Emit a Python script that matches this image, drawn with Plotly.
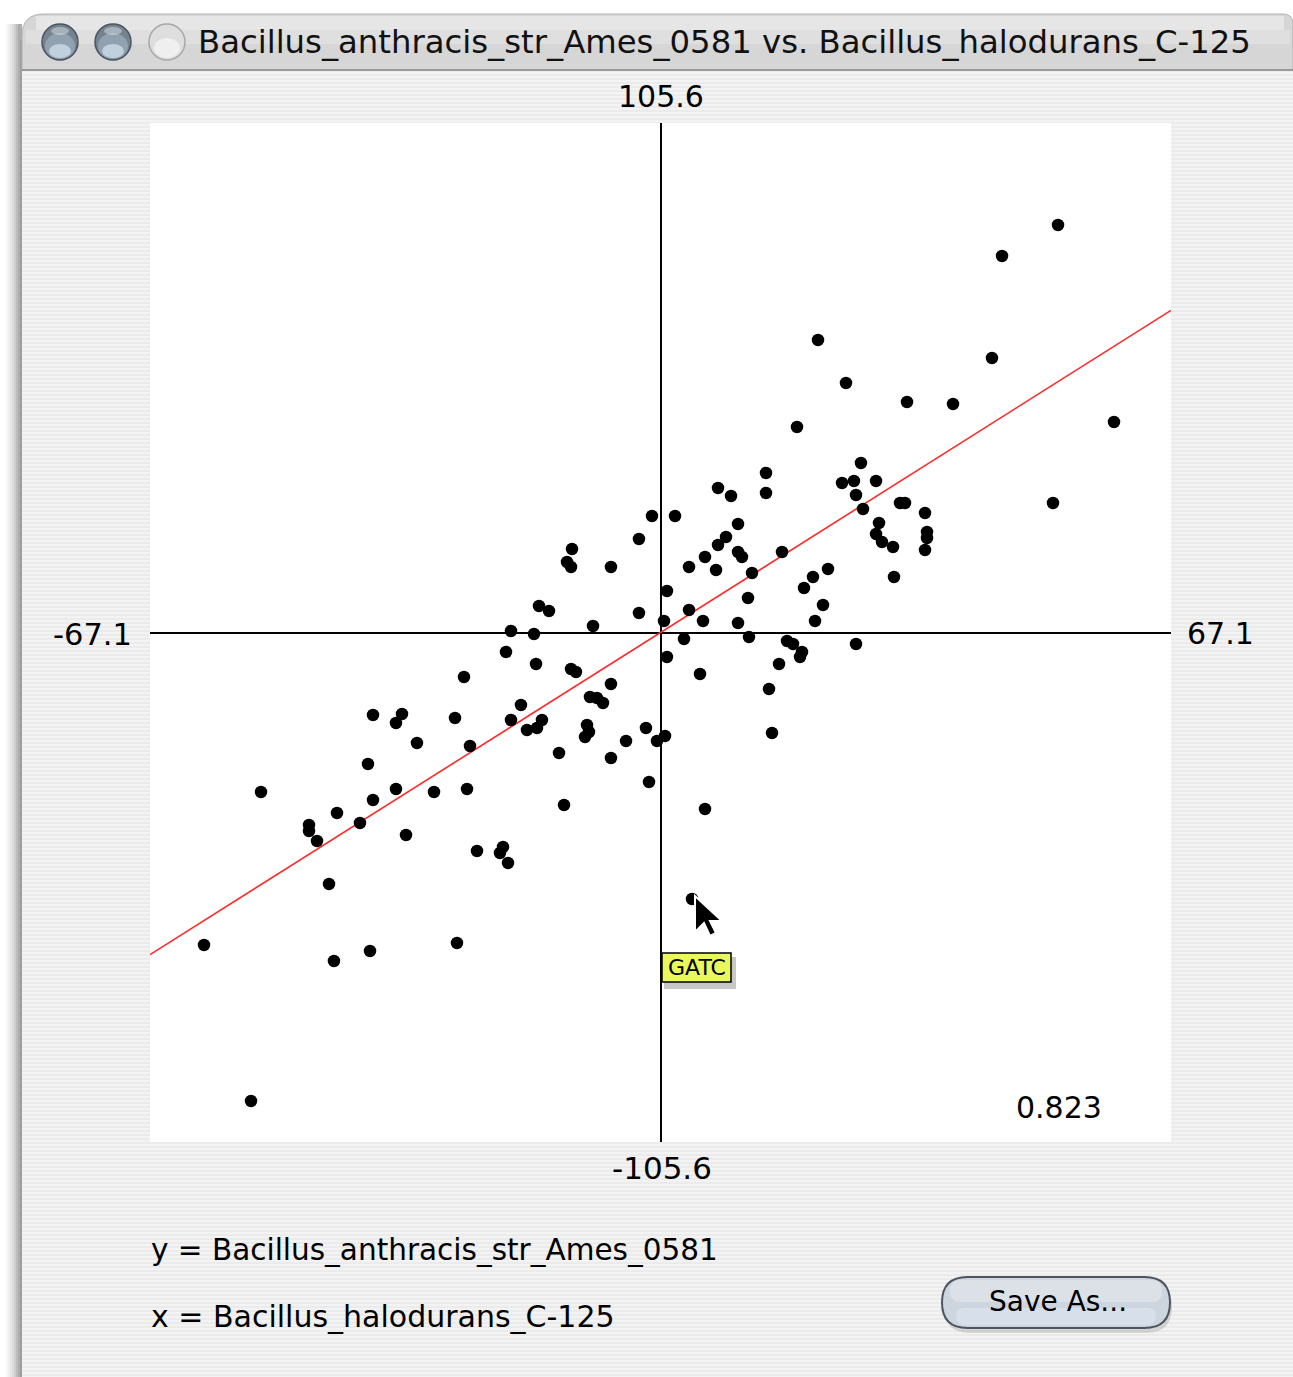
import plotly.graph_objects as go

W, H = 1293, 1377

# ---------------- data ----------------
x_label = "Bacillus_halodurans_C-125"
y_label = "Bacillus_anthracis_str_Ames_0581"
x_max = 67.1
y_max = 105.6
correlation = 0.823
fit_slope = 0.995
fit_intercept = 0.0
hover_word = "GATC"

x_vals = [52.25, 44.89, 20.70, 43.57, 24.38, 32.40, 38.45, 17.94, 59.61, 51.59,
          26.35, 25.43, 23.86, 28.33, 25.70, 26.62, 31.48, 32.14, 34.77, 28.72,
          28.33, 29.11, 30.56, 35.03, 35.03, 34.77, 30.69, 25.70, 7.56, 9.27,
          13.87, 13.87, 10.19, 8.61, 7.56, 5.85, 3.75, 7.30, 10.19, 10.71,
          12.03, 15.97, 0.85, 3.75, 0.46, 5.59, 11.50, 10.19, 11.63, 3.09,
          0.85, 5.19, 16.63, 17.42, 18.60, 18.34, 15.58, 14.26, 18.86, 20.04,
          22.02, 21.36, 20.31, -1.12, 1.91, -2.83, -11.63, -12.29, -11.76, -6.51,
          -15.97, -14.66, -2.83, -8.87, -19.65, -16.63, -20.31, -16.36, -11.76, -11.11,
          -25.83, -6.51, -9.27, -8.35, -7.56, -18.34, -27.01, -19.65, -15.58, -17.55,
          -16.23, -9.66, -9.40, -9.92, -1.91, 0.59, -0.46, -4.53, -25.04, -13.34,
          -6.51, -37.79, -33.98, -34.77, -32.01, -38.45, -34.77, -29.77, -25.43, -37.79,
          -42.52, -39.50, -46.20, -46.20, -45.15, -33.45, -24.12, -20.70, -21.10, -20.04,
          -43.57, -52.51, -60.00, -42.92, -38.18, -26.75, -53.82, -1.51, -12.68, 5.85,
          4.14, 14.66]
y_vals = [84.46, 78.03, 60.62, 56.89, 51.71, 47.77, 47.36, 42.59, 43.63, 26.84,
          35.13, 31.40, 30.99, 31.40, 28.50, 25.60, 26.84, 26.84, 24.77, 22.69,
          20.42, 18.76, 17.72, 20.83, 19.59, 17.10, 11.50, -2.38, 29.95, 28.29,
          33.06, 28.91, 22.49, 19.79, 18.14, 15.65, 13.58, 12.95, 16.68, 15.65,
          12.33, 16.68, 8.60, 4.66, 2.38, 2.38, 7.15, 1.97, -0.93, -1.35,
          -5.08, -8.60, -1.76, -2.38, -4.04, -5.08, -6.53, -11.71, 9.22, 11.50,
          13.16, 5.70, 2.38, 24.15, 24.15, 19.38, 17.31, 14.61, 13.58, 13.58,
          5.49, 4.46, 4.04, 1.35, 0.31, -0.31, -4.04, -6.53, -7.56, -8.19,
          -9.22, -10.67, -13.37, -13.58, -14.61, -15.03, -17.72, -18.14, -18.14, -20.21,
          -19.79, -19.17, -20.62, -21.66, -19.79, -21.45, -22.49, -22.49, -23.52, -24.97,
          -26.01, -17.10, -16.89, -18.76, -22.90, -27.25, -32.44, -33.06, -32.44, -34.72,
          -37.41, -39.48, -39.90, -41.14, -43.21, -41.97, -45.29, -44.46, -45.70, -47.77,
          -52.13, -33.06, -64.77, -68.09, -66.01, -64.35, -97.10, -30.99, -35.75, -36.58,
          -55.24, -20.83]

# ---------------- helpers (pixel -> paper) ----------------
def px(x):
    return x / W

def py(y):
    return 1 - y / H

FONT = "DejaVu Sans"

fig = go.Figure()

# fit line
fit_x = [-x_max, x_max]
fit_y = [fit_slope * v + fit_intercept for v in fit_x]
fig.add_trace(go.Scatter(x=fit_x, y=fit_y, mode="lines",
                         line=dict(color="#ff2a2a", width=1.6),
                         hoverinfo="skip", showlegend=False))
# points
fig.add_trace(go.Scatter(x=x_vals, y=y_vals, mode="markers",
                         marker=dict(color="black", size=12.5, line=dict(width=0)),
                         showlegend=False))

shapes = []

def rect(x0, y0, x1, y1, fill, line=None, layer="below", opacity=1):
    shapes.append(dict(type="rect", xref="paper", yref="paper", layer=layer,
                       x0=px(x0), x1=px(x1), y0=py(y1), y1=py(y0),
                       fillcolor=fill, opacity=opacity,
                       line=line if line else dict(width=0)))

# left window shadow
for i, c in enumerate(["#f6f6f6", "#efefef", "#e6e6e6", "#dcdcdc", "#cfcfcf", "#bebebe", "#adadad"]):
    rect(6 + i * 2, 24, 22, 1377, c)
# window body (pinstripes)
rect(22, 70, 1293, 1377, "#ebebeb")
for yy in range(72, 1377, 4):
    rect(22, yy, 1293, yy + 2, "#f3f3f3")
# left frame line
shapes.append(dict(type="line", xref="paper", yref="paper", layer="below",
                   x0=px(21), x1=px(21), y0=py(1377), y1=py(40),
                   line=dict(color="#9a9a9a", width=1.5)))
# white plot area
rect(150, 123, 1171, 1142, "white")

# title bar with rounded top corners
def tb_path():
    r = 22
    d = "M {} {} L {} {} ".format(px(22), py(70), px(22), py(14 + r))
    d += "Q {} {} {} {} ".format(px(22), py(14), px(22 + r), py(14))
    d += "L {} {} ".format(px(1293 - 10), py(14))
    d += "Q {} {} {} {} ".format(px(1293), py(14), px(1293), py(24))
    d += "L {} {} Z".format(px(1293), py(70))
    return d

shapes.append(dict(type="path", xref="paper", yref="paper", layer="below",
                   path=tb_path(), fillcolor="#d6d6d6", line=dict(color="#b0b0b0", width=1)))
rect(36, 16, 1284, 30, "#e6e6e6")
rect(26, 30, 1290, 44, "#dfdfdf")
shapes.append(dict(type="line", xref="paper", yref="paper", layer="below",
                   x0=px(22), x1=px(1293), y0=py(70), y1=py(70),
                   line=dict(color="#8a8a8a", width=1.5)))

# traffic-light buttons (graphite)
def circ(cx, cy, rx, ry, fill, line=None, opacity=1):
    shapes.append(dict(type="circle", xref="paper", yref="paper", layer="below",
                       x0=px(cx - rx), x1=px(cx + rx), y0=py(cy + ry), y1=py(cy - ry),
                       fillcolor=fill, opacity=opacity,
                       line=line if line else dict(width=0)))

for cx, active in [(60, True), (113, True), (167, False)]:
    if active:
        circ(cx, 42, 18, 18, "#75828f", dict(color="#4a545e", width=1.5))
        circ(cx, 46, 15, 13, "#98a9b8", opacity=0.8)
        circ(cx, 51, 11, 7, "#d4e4f1", opacity=0.7)
        circ(cx, 31, 9, 4, "#e4eaf0", opacity=0.45)
    else:
        circ(cx, 42, 18, 18, "#dedede", dict(color="#a8a8a8", width=1.5))
        circ(cx, 48, 13, 10, "#f2f2f2", opacity=0.8)

# GATC tooltip (shadow + box)
rect(664, 957, 736, 989, "rgba(0,0,0,0.22)", layer="above")
rect(662, 953, 731, 982, "#e9f85c", dict(color="black", width=1.5), layer="above")

# mouse cursor arrow
tipx, tipy = 695, 896
cur = [(0, 0), (0, 36), (9, 27), (15, 40), (21, 37), (15, 25), (27, 25)]
cpath = "M " + " L ".join("{} {}".format(px(tipx + a), py(tipy + b)) for a, b in cur) + " Z"
shapes.append(dict(type="path", xref="paper", yref="paper", path=cpath,
                   fillcolor="black", line=dict(color="white", width=2)))

# Save As... button
def pill(x0, y0, x1, y1):
    r = (y1 - y0) / 2
    d = "M {} {} L {} {} ".format(px(x0 + r), py(y0), px(x1 - r), py(y0))
    d += "Q {} {} {} {} ".format(px(x1), py(y0), px(x1), py(y0 + r))
    d += "Q {} {} {} {} ".format(px(x1), py(y1), px(x1 - r), py(y1))
    d += "L {} {} ".format(px(x0 + r), py(y1))
    d += "Q {} {} {} {} ".format(px(x0), py(y1), px(x0), py(y0 + r))
    d += "Q {} {} {} {} Z".format(px(x0), py(y0), px(x0 + r), py(y0))
    return d

shapes.append(dict(type="path", xref="paper", yref="paper", layer="below", path=pill(944, 1281, 1172, 1333),
                   fillcolor="rgba(0,0,0,0.12)", line=dict(width=0)))
shapes.append(dict(type="path", xref="paper", yref="paper", layer="below", path=pill(942, 1277, 1170, 1328),
                   fillcolor="#cdd5de", line=dict(color="#4e5560", width=2)))
shapes.append(dict(type="path", xref="paper", yref="paper", layer="below", path=pill(950, 1280, 1162, 1302),
                   fillcolor="#e6eaef", line=dict(width=0), opacity=0.6))
shapes.append(dict(type="path", xref="paper", yref="paper", layer="below", path=pill(956, 1308, 1156, 1325),
                   fillcolor="#e2ecf6", line=dict(width=0), opacity=0.5))

annotations = []

def txt(text, x, y, size, xanchor="center", yanchor="middle", color="black"):
    annotations.append(dict(text=text, x=px(x), y=py(y), xref="paper", yref="paper",
                            showarrow=False, xanchor=xanchor, yanchor=yanchor,
                            font=dict(family=FONT, size=size, color=color)))

txt(f"{y_label} vs. {x_label}", 196, 42, 32.3, xanchor="left", color="#111111")
txt(f"{y_max:.1f}", 661, 96, 30)
txt(f"-{y_max:.1f}", 662, 1168, 31)
txt(f"-{x_max:.1f}", 134, 634, 30.5, xanchor="right")
txt(f"{x_max:.1f}", 1185, 633, 30, xanchor="left")
txt(f"{correlation:.3f}", 1104, 1107, 30, xanchor="right")
txt(f"y = {y_label}", 149, 1250, 29.5, xanchor="left")
txt(f"x = {x_label}", 149, 1316, 30, xanchor="left")
txt("Save As...", 1058, 1301, 28)
txt(hover_word, 697, 967, 22)

fig.update_layout(
    width=W, height=H,
    margin=dict(l=0, r=0, t=0, b=0, pad=0, autoexpand=False),
    paper_bgcolor="white",
    plot_bgcolor="white",
    showlegend=False,
    shapes=shapes,
    annotations=annotations,
    xaxis=dict(domain=[px(150), px(1171)], range=[-x_max, x_max],
               showgrid=False, showticklabels=False, ticks="",
               zeroline=True, zerolinecolor="black", zerolinewidth=2,
               showline=False, fixedrange=True),
    yaxis=dict(domain=[py(1142), py(123)], range=[-y_max, y_max],
               showgrid=False, showticklabels=False, ticks="",
               zeroline=True, zerolinecolor="black", zerolinewidth=2,
               showline=False, fixedrange=True),
)

fig.write_html("out.html",
               config={"displayModeBar": False},
               post_script="document.body.style.margin='0';document.body.style.overflow='hidden';")
